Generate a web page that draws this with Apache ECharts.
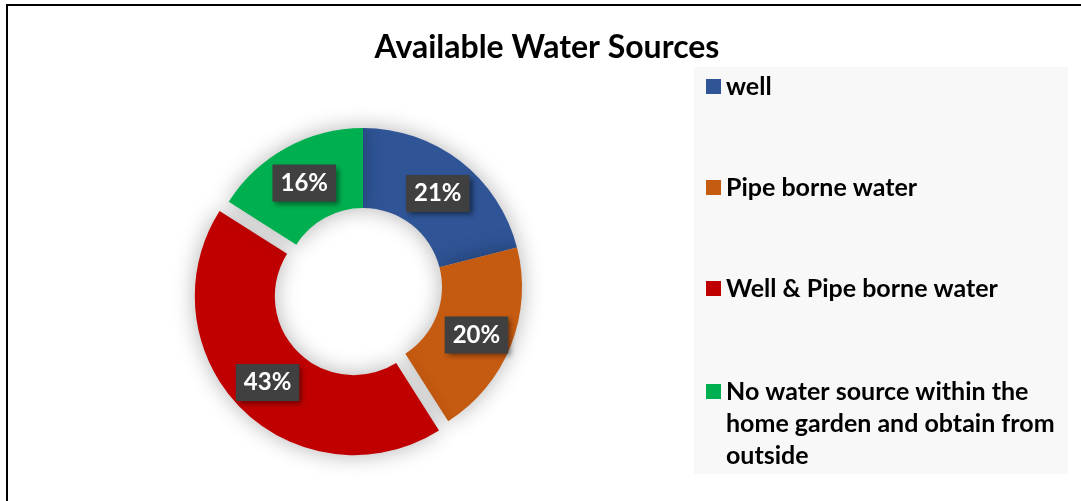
<!DOCTYPE html>
<html>
<head>
<meta charset="utf-8">
<script src="https://cdn.jsdelivr.net/npm/echarts@6/dist/echarts.min.js"></script>
<style>
html,body{margin:0;padding:0;background:#fff;}
#chart{width:1081px;height:501px;}
</style>
</head>
<body>
<div id="chart"></div>
<script>
var categories = ['well', 'Pipe borne water', 'Well & Pipe borne water', 'No water source within the home garden and obtain from outside'];
var values = [21, 20, 43, 16];
var colors = ['#2F5597', '#C55A11', '#C00000', '#00B050'];
var explodedIndex = 2;

var FONT = 'Lato';
var chart = echarts.init(document.getElementById('chart'), null, {renderer: 'canvas'});

var pieData = categories.map(function (c, i) {
  return {
    name: c,
    value: values[i],
    selected: i === explodedIndex,
    itemStyle: {color: colors[i]}
  };
});

var option = {
  backgroundColor: '#ffffff',
  animation: false,
  title: {
    text: 'Available Water Sources',
    left: 547,
    top: 32,
    textAlign: 'center',
    padding: 0,
    textStyle: {fontFamily: FONT, fontWeight: 'bold', fontSize: 32, color: '#000000'}
  },
  graphic: [
    {type: 'rect', shape: {x: 694, y: 67, width: 374, height: 407}, style: {fill: '#F8F8F8'}, z: -10, silent: true},
    {type: 'line', shape: {x1: 6, y1: 5, x2: 1081, y2: 5}, style: {stroke: '#000', lineWidth: 2}, silent: true},
    {type: 'line', shape: {x1: 7, y1: 4, x2: 7, y2: 501}, style: {stroke: '#000', lineWidth: 2}, silent: true}
  ],
  legend: [
    {
      data: categories.slice(0, 3),
      orient: 'vertical',
      left: 706,
      top: 70.5,
      padding: 0,
      itemWidth: 15,
      itemHeight: 15,
      itemGap: 69,
      icon: 'rect',
      selectedMode: false,
      textStyle: {fontFamily: FONT, fontWeight: 'bold', fontSize: 25, color: '#000', lineHeight: 32}
    },
    {
      data: [categories[3]],
      formatter: function (name) { return '\n\n' + name; },
      orient: 'vertical',
      left: 706,
      top: 311.5,
      padding: 0,
      itemWidth: 15,
      itemHeight: 15,
      icon: 'rect',
      selectedMode: false,
      textStyle: {fontFamily: FONT, fontWeight: 'bold', fontSize: 25, color: '#000', lineHeight: 32, width: 345, overflow: 'break'}
    }
  ],
  series: [{
    type: 'pie',
    center: [363, 287],
    radius: [79, 159],
    startAngle: 90,
    clockwise: true,
    selectedMode: 'multiple',
    selectedOffset: 13,
    avoidLabelOverlap: false,
    emphasis: {disabled: true},
    itemStyle: {shadowBlur: 22, shadowColor: 'rgba(0,0,0,0.3)'},
    label: {
      show: true,
      position: 'inside',
      offset: [0, 3],
      formatter: function (p) { return p.value + '%'; },
      fontFamily: FONT,
      fontWeight: 'bold',
      fontSize: 24,
      color: '#ffffff',
      backgroundColor: '#404040',
      padding: [7, 8, 6, 8],
      shadowColor: 'rgba(0,0,0,0.45)',
      shadowBlur: 5,
      shadowOffsetX: 3,
      shadowOffsetY: 3
    },
    labelLine: {show: false},
    data: pieData
  }]
};
chart.setOption(option);
</script>
</body>
</html>
